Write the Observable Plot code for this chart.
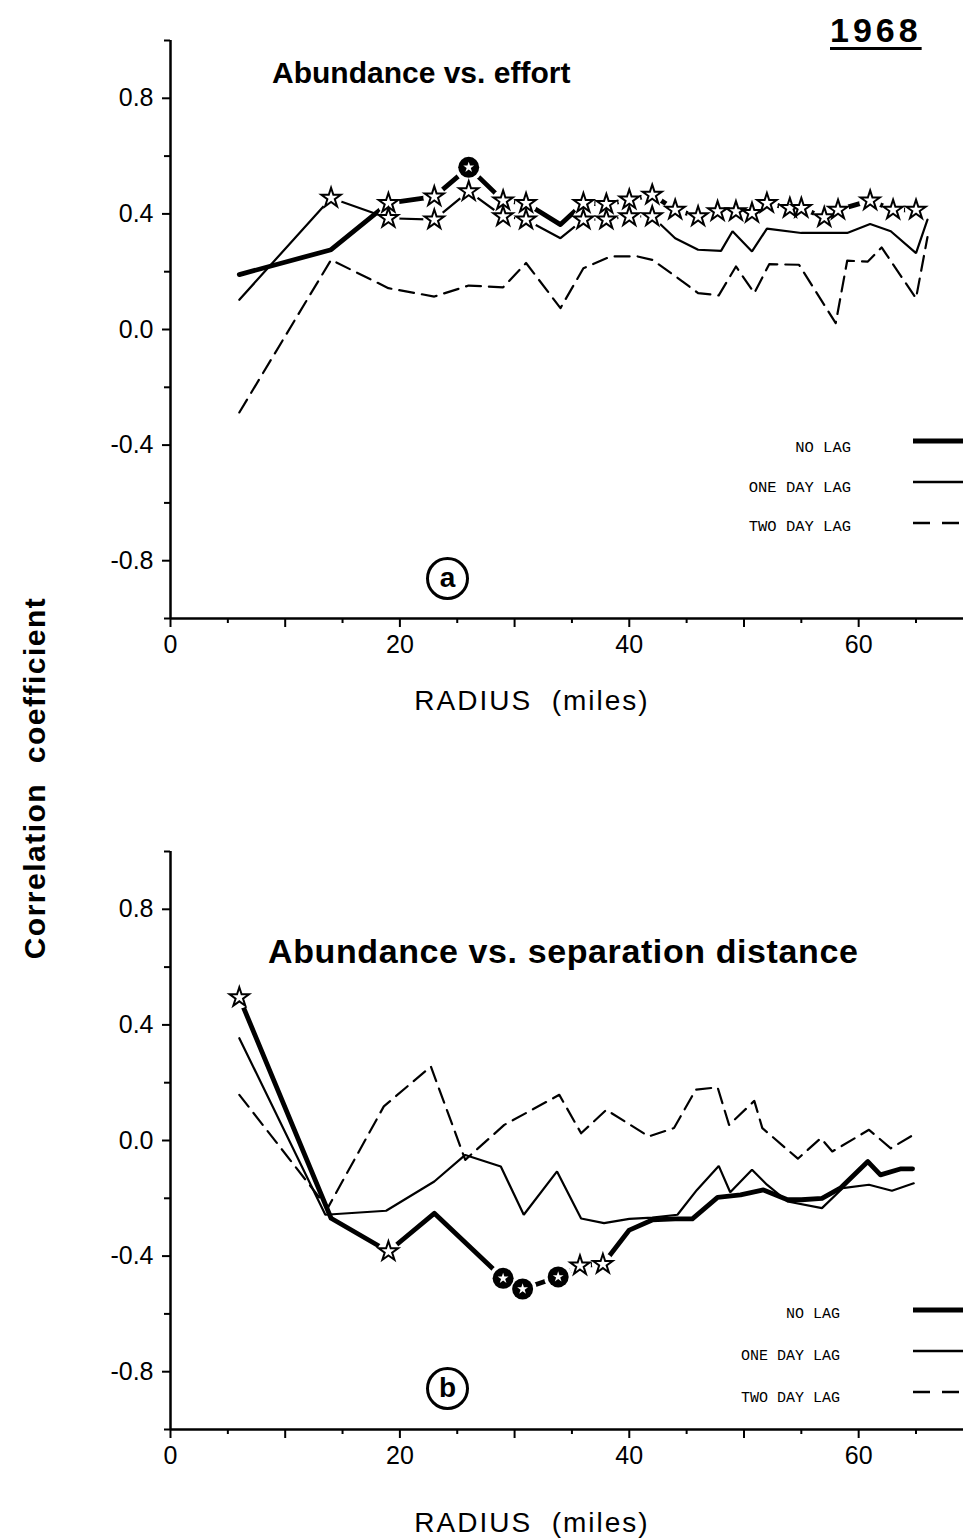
<!DOCTYPE html>
<html><head><meta charset="utf-8">
<script src="https://cdn.jsdelivr.net/npm/d3@7"></script>
<script src="https://cdn.jsdelivr.net/npm/@observablehq/plot@0.6"></script>
<style>
body{margin:0;background:#fff;}
#page{position:relative;width:963px;height:1539px;background:#fff;overflow:hidden;font-family:"Liberation Sans",Arial,sans-serif;color:#000;}
.abs{position:absolute;white-space:nowrap;}
.lg{position:absolute;font-family:"Liberation Mono",monospace;font-size:15.5px;text-align:right;white-space:nowrap;}
</style>
</head><body>
<div id="page">
  <div id="p1" class="abs" style="left:0;top:0"></div>
  <div id="p2" class="abs" style="left:0;top:811px"></div>
</div>
<script>
// ---------- DATA ----------
const yTickValues = [-0.8, -0.4, 0, 0.4, 0.8];
const yTickLabels = ["-0.8", "-0.4", "0.0", "0.4", "0.8"];
const yMinorTicks = [-1, -0.6, -0.2, 0.2, 0.6, 1];
const xMajorTicks = [0, 10, 20, 30, 40, 50, 60];
const xLabeledTicks = [0, 20, 40, 60];
const xMinorTicks = [5, 15, 25, 35, 45, 55, 65];
const seriesNames = ["NO LAG", "ONE DAY LAG", "TWO DAY LAG"];
const panelTitles = ["Abundance vs. effort", "Abundance vs. separation distance"];
const panelLetters = ["a", "b"];

// Panel (a): abundance vs effort
const aNoLagR = [6,14,19,23,26,29,31,34,36,38,40,42,44,46,47.7,49.3,50.7,52,54,55,57,58.2,61,63,65];
const aNoLagV = [0.19,0.276,0.437,0.46,0.561,0.446,0.437,0.363,0.437,0.434,0.449,0.466,0.414,0.391,0.409,0.409,0.403,0.437,0.42,0.42,0.388,0.414,0.446,0.414,0.414];
const aNoLagM = ["","","s","s","c","s","s","","s","s","s","s","s","s","s","s","s","s","s","s","s","s","s","s","s"];

const aOneR = [6,14,19,23,26,29,31,34,36,38,40,42,44,46,48,49,50.7,52,55,59,61,62.8,65,66];
const aOneV = [0.103,0.455,0.385,0.38,0.478,0.391,0.38,0.316,0.38,0.38,0.391,0.391,0.316,0.276,0.272,0.34,0.27,0.349,0.334,0.334,0.365,0.34,0.264,0.38];
const aOneM = ["","s","s","s","s","s","s","","s","s","s","s","","","","","","","","","","","",""];

const aTwoR = [6,14,19,23,26,29,31,34,36,38.4,40.7,42,44,46,47.8,49.3,50.9,52.2,54.8,58,59,60.8,62,65,66];
const aTwoV = [-0.287,0.241,0.143,0.114,0.152,0.146,0.23,0.074,0.212,0.253,0.253,0.241,0.185,0.126,0.118,0.218,0.126,0.226,0.224,0.022,0.238,0.235,0.284,0.108,0.32];

// Panel (b): abundance vs separation distance
const bNoLagR = [6,14,19,23,29,30.7,33.8,35.7,37.7,40,42,44,45.5,47.7,49.7,51.7,53.8,55,56.8,58.4,60.8,61.9,63.7,64.7];
const bNoLagV = [0.495,-0.269,-0.384,-0.252,-0.477,-0.514,-0.472,-0.433,-0.428,-0.31,-0.275,-0.271,-0.271,-0.197,-0.188,-0.171,-0.205,-0.205,-0.2,-0.165,-0.073,-0.119,-0.098,-0.098];
const bNoLagM = ["s","","s","","c","c","c","s","s","","","","","","","","","","","","","","",""];

const bOneR = [6,13.5,18.8,23,25.7,28.8,30.8,33.7,35.8,37.8,40,42,44.2,45.9,47.8,48.8,50.7,52,53.8,56.8,58.6,60.9,62.9,64.8];
const bOneV = [0.354,-0.257,-0.243,-0.142,-0.05,-0.09,-0.257,-0.107,-0.27,-0.286,-0.271,-0.267,-0.257,-0.171,-0.088,-0.179,-0.101,-0.153,-0.211,-0.234,-0.165,-0.153,-0.174,-0.148];

const bTwoR = [6,13.7,18.6,22.7,25.7,29.1,33.9,35.8,38,41.7,43.9,45.8,47.7,48.7,50.9,51.6,54.7,56.7,57.7,60.9,62.8,65];
const bTwoV = [0.158,-0.234,0.118,0.256,-0.067,0.054,0.158,0.025,0.106,0.014,0.043,0.176,0.184,0.054,0.137,0.043,-0.063,0.008,-0.038,0.037,-0.027,0.025];

// ---------- BUILD ----------
function rows(rs, vs, ms) { return rs.map((r, i) => ({r, v: vs[i], m: ms ? ms[i] : ""})); }

const yLabelMap = new Map(yTickValues.map((v, i) => [v, yTickLabels[i]]));

function panel(noLag, one, two) {
  const all = noLag.concat(one);
  const stars = all.filter(d => d.m === "s");
  const circles = all.filter(d => d.m === "c");
  return Plot.plot({
    width: 963, height: 669,
    marginLeft: 170, marginRight: 0, marginTop: 40, marginBottom: 51,
    style: {fontFamily: "'Liberation Sans', Arial, sans-serif", background: "transparent", overflow: "visible", color: "#000"},
    x: {domain: [0, 69.14], axis: null},
    y: {domain: [-1, 1], axis: null},
    marks: [
      Plot.axisY(yMinorTicks, {anchor: "left", tickSize: 6, tickFormat: () => "", strokeWidth: 2, label: null}),
      Plot.axisY(yTickValues, {anchor: "left", tickSize: 8, tickPadding: 9, strokeWidth: 2, tickFormat: d => yLabelMap.get(d), fontSize: 25, label: null}),
      Plot.axisX(xMinorTicks, {anchor: "bottom", tickSize: 5, tickFormat: () => "", strokeWidth: 2, label: null}),
      Plot.axisX(xMajorTicks, {anchor: "bottom", tickSize: 9, tickPadding: 8, strokeWidth: 2, tickFormat: d => xLabeledTicks.includes(d) ? String(d) : "", fontSize: 25, label: null}),
      Plot.ruleX([0], {stroke: "#000", strokeWidth: 2.5}),
      Plot.ruleY([-1], {stroke: "#000", strokeWidth: 2.5}),
      Plot.line(two, {x: "r", y: "v", stroke: "#000", strokeWidth: 2.2, strokeDasharray: "15,8"}),
      Plot.line(one, {x: "r", y: "v", stroke: "#000", strokeWidth: 2.2, strokeLinejoin: "miter"}),
      Plot.line(noLag, {x: "r", y: "v", stroke: "#000", strokeWidth: 4.8, strokeLinejoin: "round"}),
      Plot.dot(stars, {x: "r", y: "v", r: 11, fill: "#fff", stroke: "none"}),
      Plot.dot(circles, {x: "r", y: "v", r: 14, fill: "#fff", stroke: "none"}),
      Plot.dot(circles, {x: "r", y: "v", r: 10.5, fill: "#000", stroke: "none"}),
      Plot.dot(circles, {x: "r", y: "v", r: 3.4, symbol: "star", fill: "#fff", stroke: "none"}),
      Plot.dot(stars, {x: "r", y: "v", r: 6.1, symbol: "star", fill: "#fff", stroke: "#000", strokeWidth: 2})
    ]
  });
}

document.getElementById("p1").appendChild(panel(rows(aNoLagR, aNoLagV, aNoLagM), rows(aOneR, aOneV, aOneM), rows(aTwoR, aTwoV)));
document.getElementById("p2").appendChild(panel(rows(bNoLagR, bNoLagV, bNoLagM), rows(bOneR, bOneV), rows(bTwoR, bTwoV)));

// ---------- TEXT / LEGENDS ----------
const page = document.getElementById("page");
function addDiv(html, css) { const d = document.createElement("div"); d.className = "abs"; d.innerHTML = html; d.style.cssText += css; page.appendChild(d); return d; }

addDiv("1968", "left:830px;top:11px;font-size:34px;font-weight:bold;letter-spacing:4px;text-decoration:underline;text-decoration-thickness:3px;text-underline-offset:5px;");
addDiv(panelTitles[0], "left:272px;top:56px;font-size:30px;font-weight:bold;");
addDiv(panelTitles[1], "left:268px;top:932px;font-size:34px;font-weight:bold;letter-spacing:0.6px;");
addDiv("RADIUS&nbsp;&nbsp;(miles)", "left:532px;top:685px;transform:translateX(-50%);font-size:28px;letter-spacing:2px;");
addDiv("RADIUS&nbsp;&nbsp;(miles)", "left:532px;top:1507px;transform:translateX(-50%);font-size:28px;letter-spacing:2px;");
addDiv("Correlation&nbsp;&nbsp;coefficient", "left:35px;top:778px;transform:translate(-50%,-50%) rotate(-90deg);font-size:30px;font-weight:bold;letter-spacing:1.5px;");

[[578, panelLetters[0]], [1388, panelLetters[1]]].forEach(([cy, t]) => {
  addDiv(t, `left:${447-21}px;top:${cy-21}px;width:37px;height:37px;border:3px solid #000;border-radius:50%;text-align:center;line-height:35px;font-size:28px;font-weight:bold;`);
});

function legend(rightEdge, ys, lineYs, fs) {
  const styles = [{w: 5, dash: ""}, {w: 2.6, dash: ""}, {w: 2.6, dash: "17,12"}];
  seriesNames.forEach((name, i) => {
    const t = document.createElement("div");
    t.className = "lg"; t.textContent = name;
    t.style.cssText += `right:${963-rightEdge}px;top:${ys[i]-10}px;font-size:${fs}px;`;
    page.appendChild(t);
    const s = document.createElementNS("http://www.w3.org/2000/svg", "svg");
    s.setAttribute("width", 52); s.setAttribute("height", 10);
    s.style.cssText = `position:absolute;left:913px;top:${lineYs[i]-5}px;`;
    s.innerHTML = `<line x1="0" x2="52" y1="5" y2="5" stroke="#000" stroke-width="${styles[i].w}" ${styles[i].dash ? `stroke-dasharray="${styles[i].dash}"` : ""}/>`;
    page.appendChild(s);
  });
}
legend(851, [449, 489, 528], [441, 482, 523], 15.5);
legend(840, [1316, 1358, 1400], [1310, 1351, 1392], 15);
</script>
</body></html>
